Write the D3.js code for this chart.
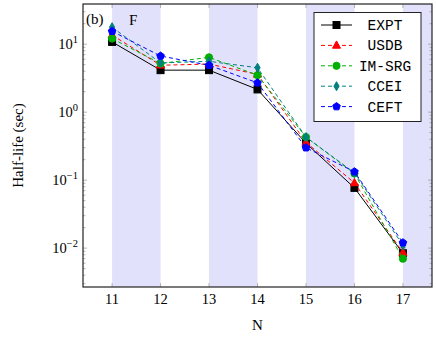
<!DOCTYPE html>
<html>
<head>
<meta charset="utf-8">
<script src="https://cdn.jsdelivr.net/npm/d3@7"></script>
<style>
  body { margin: 0; background: #fff; }
  text { font-family: "Liberation Serif", "DejaVu Serif", serif; }
</style>
</head>
<body>
<script>
// neutron numbers and half-lives (sec) for F isotopes
const nValues = [11, 12, 13, 14, 15, 16, 17];
const expt   = [10.8, 4.15, 4.15, 2.16, 0.35, 0.077, 0.0084];
const exptErr = [0, 0, 0, 0, 0, 0, 0.0017];
const usdb   = [13.6, 4.9, 5.1, 3.6, 0.36, 0.091, 0.0086];
const imsrg  = [12.1, 5.2, 6.4, 3.5, 0.43, 0.125, 0.0070];
const ccei   = [17.8, 5.3, 5.6, 4.5, 0.43, 0.128, 0.0110];
const ceft   = [15.5, 6.7, 4.9, 2.7, 0.30, 0.133, 0.0120];
const bands = [[11, 12], [13, 14], [15, 16], [17, 17.6]];
const yTicks = [-2, -1, 0, 1];
const seriesNames = ["EXPT", "USDB", "IM-SRG", "CCEI", "CEFT"];

const W = 436, H = 338;
const m = {left: 83, right: 4, top: 4, bottom: 51};

const x = d3.scaleLinear().domain([10.4, 17.6]).range([m.left, W - m.right]);
const y = d3.scaleLog().domain([0.00268, 39]).range([H - m.bottom, m.top]);

const svg = d3.select("body").append("svg")
    .attr("width", W).attr("height", H);

// shaded columns
svg.selectAll("rect.band").data(bands).enter().append("rect")
    .attr("x", d => x(d[0]))
    .attr("y", m.top)
    .attr("width", d => x(d[1]) - x(d[0]))
    .attr("height", H - m.bottom - m.top)
    .attr("fill", "#e1e1fb");

// ticks (inward) on all sides
const tickCol = "#888";
const g = svg.append("g");
nValues.forEach(n => {
  g.append("line").attr("x1", x(n)).attr("x2", x(n))
    .attr("y1", H - m.bottom).attr("y2", H - m.bottom - 4)
    .attr("stroke", tickCol).attr("stroke-width", 0.6);
  g.append("line").attr("x1", x(n)).attr("x2", x(n))
    .attr("y1", m.top).attr("y2", m.top + 4)
    .attr("stroke", tickCol).attr("stroke-width", 0.6);
});
for (let e = -3; e <= 1; e++) {
  for (let k = 1; k <= 9; k++) {
    const v = k * Math.pow(10, e);
    if (v < y.domain()[0] || v > y.domain()[1]) continue;
    const len = k === 1 ? 4 : 2.5;
    [[m.left, 1], [W - m.right, -1]].forEach(([x0, dir]) => {
      g.append("line").attr("x1", x0).attr("x2", x0 + dir * len)
        .attr("y1", y(v)).attr("y2", y(v))
        .attr("stroke", tickCol).attr("stroke-width", 0.6);
    });
  }
}

// series
const series = [
  {name: seriesNames[0], vals: expt,  color: "#000000", dash: null,  mark: "square"},
  {name: seriesNames[1], vals: usdb,  color: "#ff0000", dash: "4,3", mark: "triangle"},
  {name: seriesNames[2], vals: imsrg, color: "#00b000", dash: "4,3", mark: "circle"},
  {name: seriesNames[3], vals: ccei,  color: "#008080", dash: "4,3", mark: "diamond"},
  {name: seriesNames[4], vals: ceft,  color: "#0000ff", dash: "4,3", mark: "pentagon"}
];

function marker(sel, type, color) {
  if (type === "square") {
    sel.append("rect").attr("x", -3.5).attr("y", -3.5).attr("width", 7).attr("height", 7)
      .attr("fill", color).attr("stroke", color);
  } else if (type === "circle") {
    sel.append("circle").attr("r", 3.6).attr("fill", color).attr("stroke", color);
  } else if (type === "triangle") {
    sel.append("path").attr("d", "M0,-4.5L4,2.8L-4,2.8Z").attr("fill", color).attr("stroke", color);
  } else if (type === "diamond") {
    sel.append("path").attr("d", "M0,-4.5L2.6,0L0,4.5L-2.6,0Z").attr("fill", color).attr("stroke", color);
  } else if (type === "pentagon") {
    const pts = d3.range(5).map(i => {
      const a = -Math.PI / 2 + i * 2 * Math.PI / 5;
      return [4 * Math.cos(a), 4 * Math.sin(a)];
    });
    sel.append("path").attr("d", "M" + pts.join("L") + "Z").attr("fill", color).attr("stroke", color);
  }
}

const line = d3.line().x((d, i) => x(nValues[i])).y(d => y(d));

series.forEach((s, si) => {
  svg.append("path").datum(s.vals)
    .attr("d", line)
    .attr("fill", "none")
    .attr("stroke", s.color)
    .attr("stroke-width", 1)
    .attr("stroke-dasharray", s.dash);
  if (si === 0) {
    // error bars
    s.vals.forEach((v, i) => {
      if (!exptErr[i]) return;
      const y1 = y(v + exptErr[i]), y2 = y(v - exptErr[i]);
      const gx = x(nValues[i]);
      svg.append("line").attr("x1", gx).attr("x2", gx).attr("y1", y1).attr("y2", y2)
        .attr("stroke", "#333").attr("stroke-width", 1);
      [y1, y2].forEach(yy => svg.append("line").attr("x1", gx - 2.5).attr("x2", gx + 2.5)
        .attr("y1", yy).attr("y2", yy).attr("stroke", "#333").attr("stroke-width", 1));
    });
  }
  s.vals.forEach((v, i) => {
    const mg = svg.append("g").attr("transform", `translate(${x(nValues[i])},${y(v)})`);
    marker(mg, s.mark, s.color);
  });
});

// frame
svg.append("rect")
  .attr("x", m.left).attr("y", m.top)
  .attr("width", W - m.right - m.left).attr("height", H - m.bottom - m.top)
  .attr("fill", "none").attr("stroke", "#222").attr("stroke-width", 1.2);

// x tick labels
svg.selectAll("text.xt").data(nValues).enter().append("text")
  .attr("x", d => x(d)).attr("y", H - m.bottom + 17)
  .attr("text-anchor", "middle").attr("font-size", 14.5)
  .text(d => d);

// y tick labels 10^e
yTicks.forEach(e => {
  const t = svg.append("text")
    .attr("x", m.left - 5).attr("y", y(Math.pow(10, e)) + 5)
    .attr("text-anchor", "end").attr("font-size", 14.5);
  t.append("tspan").text("10");
  t.append("tspan").attr("dy", -6).attr("font-size", 10.5).text(e < 0 ? "\u2212" + (-e) : e);
});

// axis titles
svg.append("text").attr("x", x(14)).attr("y", H - 8)
  .attr("text-anchor", "middle").attr("font-size", 15).text("N");
svg.append("text")
  .attr("transform", `translate(23,${(m.top + H - m.bottom) / 2}) rotate(-90)`)
  .attr("text-anchor", "middle").attr("font-size", 15).text("Half-life (sec)");

// panel labels
svg.append("text").attr("x", m.left + 3).attr("y", 24).attr("font-size", 15).text("(b)");
svg.append("text").attr("x", 129).attr("y", 25).attr("font-size", 15).text("F");

// legend
const lg = svg.append("g");
lg.append("rect").attr("x", 314).attr("y", 12.5).attr("width", 107).attr("height", 109)
  .attr("fill", "#fff").attr("stroke", "#222").attr("stroke-width", 1);
series.forEach((s, i) => {
  const ly = 25 + i * 20.4;
  lg.append("line").attr("x1", 321).attr("x2", 352).attr("y1", ly).attr("y2", ly)
    .attr("stroke", s.color).attr("stroke-width", 1).attr("stroke-dasharray", s.dash);
  marker(lg.append("g").attr("transform", `translate(336.5,${ly})`), s.mark, s.color);
  lg.append("text").attr("x", 385).attr("y", ly + 5)
    .attr("text-anchor", "middle")
    .style("font-family", "'Liberation Mono', 'DejaVu Sans Mono', monospace")
    .attr("font-size", 14.5).text(s.name);
});
</script>
</body>
</html>
